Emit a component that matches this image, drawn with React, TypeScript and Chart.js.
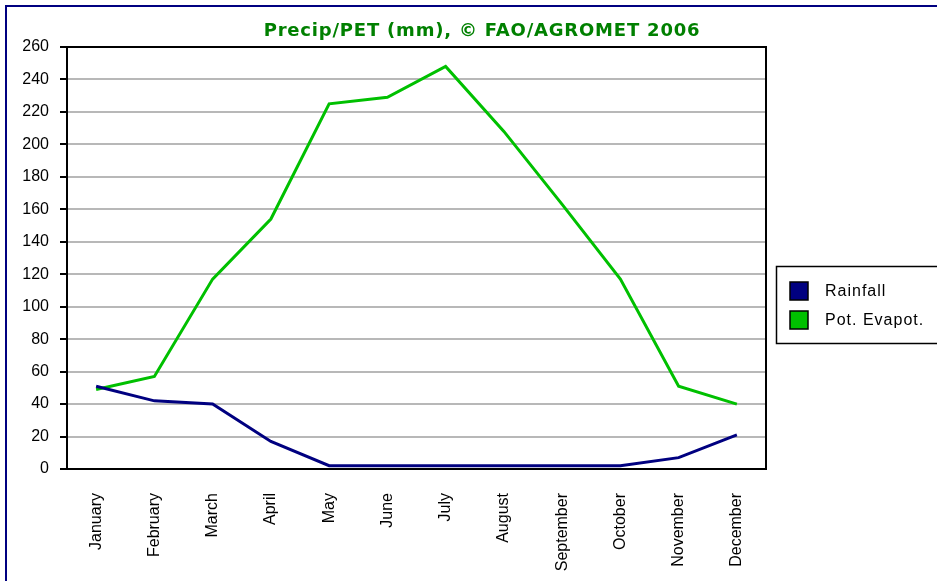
import React, { useEffect, useRef } from "react";
import { Chart, registerables } from "chart.js";

Chart.register(...registerables);

const months = [
  "January", "February", "March", "April", "May", "June",
  "July", "August", "September", "October", "November", "December",
];
const rainfall = [51, 42, 40, 17, 2, 2, 2, 2, 2, 2, 7, 21];
const petValues = [49, 57, 117, 154, 225, 229, 248, 208, 163, 117, 51, 40];
const yTicksMax = 260;
const yStep = 20;
const titleText = "Precip/PET (mm), © FAO/AGROMET 2006";

const W = 937;
const H = 581;

const framePlugin = {
  id: "framePlugin",
  beforeDraw(chart: any) {
    const ctx = chart.ctx;
    ctx.save();
    ctx.fillStyle = "#ffffff";
    ctx.fillRect(0, 0, chart.width, chart.height);
    ctx.strokeStyle = "#000080";
    ctx.lineWidth = 2;
    ctx.strokeRect(6, 6, chart.width + 20, chart.height + 20);
    ctx.restore();
  },
  afterDraw(chart: any) {
    const ctx = chart.ctx;
    const a = chart.chartArea;
    ctx.save();
    // plot frame top & right
    ctx.strokeStyle = "#000000";
    ctx.lineWidth = 2;
    ctx.beginPath();
    ctx.moveTo(a.left, a.top);
    ctx.lineTo(a.right, a.top);
    ctx.lineTo(a.right, a.bottom);
    ctx.stroke();
    // title
    ctx.fillStyle = "#008000";
    ctx.font = "bold 18px 'DejaVu Sans'";
    (ctx as any).letterSpacing = "0.8px";
    ctx.textAlign = "center";
    ctx.textBaseline = "middle";
    ctx.fillText(titleText, 482, 31);
    // legend
    const lx = 776, ly = 266, lw = 170, lh = 77;
    ctx.lineWidth = 1.5;
    ctx.strokeStyle = "#000000";
    ctx.strokeRect(lx + 0.5, ly + 0.5, lw, lh);
    const ds = chart.data.datasets;
    ctx.font = "16px 'Liberation Sans'";
    (ctx as any).letterSpacing = "1px";
    ctx.textAlign = "left";
    ctx.textBaseline = "middle";
    ds.forEach((d: any, i: number) => {
      const sy = 282 + i * 29;
      ctx.fillStyle = d.borderColor;
      ctx.fillRect(790, sy, 18, 18);
      ctx.lineWidth = 1.5;
      ctx.strokeStyle = "#000000";
      ctx.strokeRect(790, sy, 18, 18);
      ctx.fillStyle = "#000000";
      ctx.fillText(d.label, 825, sy + 10);
    });
    ctx.restore();
  },
};

export default function App() {
  const ref = useRef<HTMLCanvasElement | null>(null);
  useEffect(() => {
    if (!ref.current) return;
    const chart = new Chart(ref.current, {
      type: "line",
      data: {
        labels: months,
        datasets: [
          {
            label: "Rainfall",
            data: rainfall,
            borderColor: "#000080",
            backgroundColor: "#000080",
            borderWidth: 3,
            pointRadius: 0,
            tension: 0,
          },
          {
            label: "Pot. Evapot.",
            data: petValues,
            borderColor: "#00c000",
            backgroundColor: "#00c000",
            borderWidth: 3,
            pointRadius: 0,
            tension: 0,
          },
        ],
      },
      options: {
        animation: false,
        responsive: false,
        devicePixelRatio: 1,
        layout: { padding: { left: 0, top: 47, right: 171, bottom: 0 } },
        plugins: {
          legend: { display: false },
          title: { display: false },
          tooltip: { enabled: false },
        },
        scales: {
          x: {
            offset: true,
            grid: { display: false },
            border: { display: true, color: "#000000", width: 2 },
            ticks: {
              minRotation: 90,
              maxRotation: 90,
              autoSkip: false,
              padding: 16,
              color: "#000000",
              font: { family: "'Liberation Sans'", size: 16 },
            },
            afterFit: (s: any) => {
              s.height = 112;
            },
          },
          y: {
            min: 0,
            max: yTicksMax,
            grid: {
              color: "#b8b8b8",
              lineWidth: 2,
              tickColor: "#000000",
              tickLength: 7,
              tickWidth: 2,
            },
            border: { display: true, color: "#000000", width: 2 },
            ticks: {
              stepSize: yStep,
              padding: 11,
              color: "#000000",
              font: { family: "'Liberation Sans'", size: 16 },
            },
            afterFit: (s: any) => {
              s.width = 67;
            },
          },
        },
      },
      plugins: [framePlugin],
    });
    return () => chart.destroy();
  }, []);
  return (
    <div style={{ position: "absolute", left: 0, top: 0, width: W, height: H }}>
      <canvas ref={ref} width={W} height={H} style={{ width: W, height: H }} />
    </div>
  );
}
